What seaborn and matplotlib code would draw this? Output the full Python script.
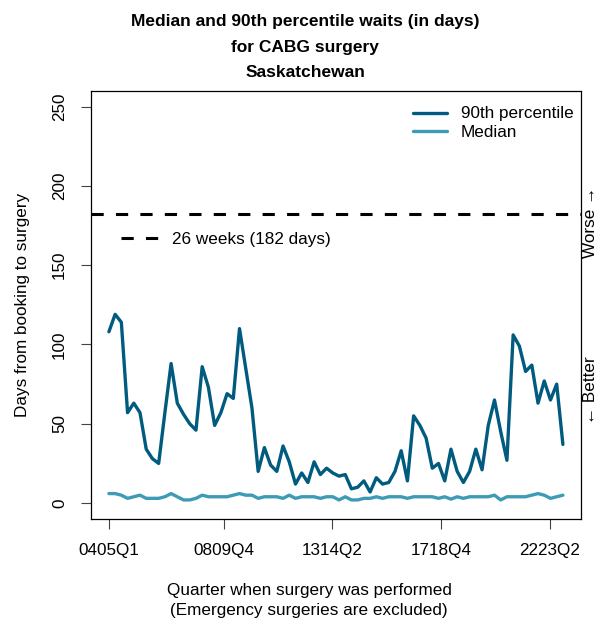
import matplotlib
matplotlib.use("Agg")
import matplotlib.pyplot as plt
from matplotlib.lines import Line2D
import numpy as np
import pandas as pd
import seaborn as sns

# 90th percentile and median waits (days), one value per quarter from 0405Q1
p90 = [108, 119, 114, 57, 63, 57, 34, 28, 25, 57,
       88, 63, 56, 50, 46, 86, 73, 49, 57, 69,
       66, 110, 85, 60, 20, 35, 24, 20, 36, 26,
       12, 19, 13, 26, 18, 22, 19, 17, 18, 9,
       10, 14, 7, 16, 12, 13, 20, 33, 14, 55,
       49, 41, 22, 25, 14, 34, 20, 13, 20, 34,
       21, 49, 65, 45, 27, 106, 99, 83, 87, 63,
       77, 65, 75, 37]
median = [6, 6, 5, 3, 4, 5, 3, 3, 3, 4,
          6, 4, 2, 2, 3, 5, 4, 4, 4, 4,
          5, 6, 5, 5, 3, 4, 4, 4, 3, 5,
          3, 4, 4, 4, 3, 4, 4, 2, 4, 2,
          2, 3, 3, 4, 3, 4, 4, 4, 3, 4,
          4, 4, 4, 3, 4, 2.5, 4, 3, 4, 4,
          4, 4, 5, 2, 4, 4, 4, 4, 5, 6,
          5, 3, 4, 5]
tick_labels = ["0405Q1", "0809Q4", "1314Q2", "1718Q4", "2223Q2"]
tick_pos = [0, 18.45, 35.95, 53.45, 70.9]
benchmark = 182

series_names = ["90th percentile", "Median"]
colors = {"90th percentile": "#005B7F", "Median": "#3D9BB5"}

n = len(p90)
qidx = np.arange(n)
df = pd.DataFrame({
    "quarter": np.concatenate([qidx, qidx]),
    "days": p90 + median,
    "series": [series_names[0]] * n + [series_names[1]] * n,
})

sns.set_style("ticks")
plt.rcParams["font.family"] = ["Liberation Sans", "DejaVu Sans"]
plt.rcParams.update({"text.color": "black", "axes.labelcolor": "black",
                     "xtick.color": "black", "ytick.color": "black"})
fs = 12.3

fig = plt.figure(figsize=(5.97, 6.21), dpi=100)
ax = fig.add_axes([0.152, 0.1643, 0.8213, 0.6897])

sns.lineplot(data=df, x="quarter", y="days", hue="series", hue_order=series_names,
             palette=colors, linewidth=2.4, ax=ax, legend=False)
ax.axhline(benchmark, color="black", lw=2.2, ls=(0, (4, 4)))

ax.set_xlim(-2.92, 75.92)
ax.set_ylim(-10, 260)
ax.set_xticks(tick_pos)
ax.set_xticklabels(tick_labels)
ax.set_yticks(range(0, 251, 50))
ax.tick_params(direction="out", length=7, width=0.8, color="#444444", labelsize=fs, pad=10)
plt.setp(ax.get_yticklabels(), rotation=90, va="center")
ax.set_xlabel("")
ax.set_ylabel("")
for sp in ax.spines.values():
    sp.set_visible(True)
    sp.set_linewidth(0.9)
    sp.set_color("black")

h1 = [Line2D([], [], color=colors[s], lw=2.4) for s in series_names]
leg1 = ax.legend(h1, series_names, loc="upper right", bbox_to_anchor=(1.0, 0.981),
                 frameon=False, fontsize=fs, handlelength=2.0, labelspacing=0.2,
                 borderaxespad=0.05)
ax.add_artist(leg1)
h2 = [Line2D([], [], color="black", lw=2.2, ls=(0, (4, 4)))]
ax.legend(h2, ["26 weeks (182 days)"], loc="center left", bbox_to_anchor=(0.03, 0.652),
          frameon=False, fontsize=fs, handlelength=2.2)

ax.text(1.019, 0.693, "Worse \u2192", transform=ax.transAxes, rotation=90,
        ha="center", va="center", fontsize=fs)
ax.text(1.019, 0.30, "\u2190 Better", transform=ax.transAxes, rotation=90,
        ha="center", va="center", fontsize=fs)

fig.text(0.511, 0.924, "Median and 90th percentile waits (in days)\nfor CABG surgery\nSaskatchewan",
         ha="center", va="center", fontsize=12.5, fontweight="bold", linespacing=1.9)
fig.text(0.037, 0.509, "Days from booking to surgery", rotation=90, ha="center", va="center", fontsize=fs)
fig.text(0.518, 0.033, "Quarter when surgery was performed\n(Emergency surgeries are excluded)",
         ha="center", va="center", fontsize=fs, linespacing=1.35)

fig.savefig("out.png", dpi=100)
